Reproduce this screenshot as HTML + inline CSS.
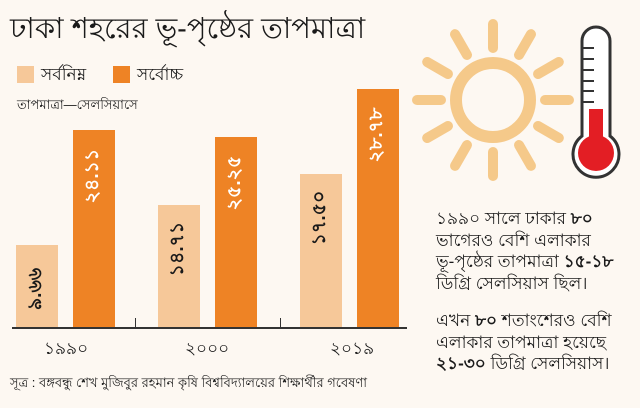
<!DOCTYPE html>
<html><head><meta charset="utf-8"><style>
body{margin:0;width:640px;height:408px;background:#fdf8f2;position:relative;overflow:hidden;font-family:"Liberation Sans","Noto Sans CJK SC",sans-serif;color:#1a1a1a}
.a{position:absolute;white-space:nowrap}
.bar{position:absolute}
.l{background:#f6c899}.d{background:#ee8325}
.v{position:absolute;left:50%;transform:translateX(-50%) rotate(-90deg);transform-origin:center;font-size:19px;font-weight:bold;white-space:nowrap}
</style></head><body>
<div class="a" style="left:10px;top:6px;font-size:29px">ঢাকা শহরের ভূ-পৃষ্ঠের তাপমাত্রা</div>
<div class="a" style="left:17px;top:66px;width:17px;height:17px;background:#f6c899"></div>
<div class="a" style="left:41px;top:62px;font-size:17px">সর্বনিম্ন</div>
<div class="a" style="left:113px;top:66px;width:17px;height:17px;background:#ee8325"></div>
<div class="a" style="left:137px;top:62px;font-size:17px">সর্বোচ্চ</div>
<div class="a" style="left:17px;top:96px;font-size:13px">তাপমাত্রা—সেলসিয়াসে</div>

<div class="bar l" style="left:16px;top:245px;width:42px;height:82px"><div class="v" style="top:28px">৯.৬৬</div></div>
<div class="bar d" style="left:73px;top:130px;width:42px;height:197px"><div class="v" style="top:30px;color:#fff">২৪.১১</div></div>
<div class="bar l" style="left:158px;top:205px;width:42px;height:122px"><div class="v" style="top:28px">১৪.৭১</div></div>
<div class="bar d" style="left:215px;top:137px;width:42px;height:190px"><div class="v" style="top:30px;color:#fff">২৫.২৫</div></div>
<div class="bar l" style="left:300px;top:174px;width:42px;height:153px"><div class="v" style="top:28px">১৭.৫০</div></div>
<div class="bar d" style="left:357px;top:89px;width:42px;height:238px"><div class="v" style="top:30px;color:#fff">২৮.৭৮</div></div>

<div class="a" style="left:12px;top:327px;width:395px;height:2px;background:#333"></div>
<div class="a" style="left:135px;top:318px;width:1px;height:11px;background:#333"></div>
<div class="a" style="left:280px;top:318px;width:1px;height:11px;background:#333"></div>
<div class="a" style="left:44px;top:336px;font-size:17px">১৯৯০</div>
<div class="a" style="left:185px;top:336px;font-size:17px">২০০০</div>
<div class="a" style="left:330px;top:336px;font-size:17px">২০১৯</div>
<div class="a" style="left:10px;top:374px;font-size:13px">সূত্র : বঙ্গবন্ধু শেখ মুজিবুর রহমান কৃষি বিশ্ববিদ্যালয়ের শিক্ষার্থীর গবেষণা</div>

<svg class="a" style="left:0;top:0" width="640" height="408">
<g stroke="#f5c98a" stroke-linecap="round" stroke-width="10">
<circle cx="493" cy="100" r="37" fill="none" stroke-width="12"/>
<g transform="translate(493,100)">
<line x1="52" y1="0" x2="76" y2="0"/><line x1="52" y1="0" x2="76" y2="0" transform="rotate(30)"/><line x1="52" y1="0" x2="76" y2="0" transform="rotate(60)"/><line x1="52" y1="0" x2="76" y2="0" transform="rotate(90)"/><line x1="52" y1="0" x2="76" y2="0" transform="rotate(120)"/><line x1="52" y1="0" x2="76" y2="0" transform="rotate(150)"/><line x1="52" y1="0" x2="76" y2="0" transform="rotate(180)"/><line x1="52" y1="0" x2="76" y2="0" transform="rotate(210)"/><line x1="52" y1="0" x2="76" y2="0" transform="rotate(240)"/><line x1="52" y1="0" x2="76" y2="0" transform="rotate(270)"/><line x1="52" y1="0" x2="76" y2="0" transform="rotate(300)"/><line x1="52" y1="0" x2="76" y2="0" transform="rotate(330)"/>
</g></g>
<path d="M582,136 V41 a14,14 0 0 1 28,0 V136 a23,23 0 1 1 -28,0 Z" fill="#fff" stroke="#333" stroke-width="3"/>
<rect x="589" y="109" width="14" height="40" fill="#e31e24"/>
<circle cx="596" cy="153" r="18" fill="#e31e24"/>
<g stroke="#333" stroke-width="2"><line x1="583" y1="48" x2="594" y2="48"/><line x1="583" y1="59" x2="594" y2="59"/><line x1="583" y1="70" x2="594" y2="70"/><line x1="583" y1="81" x2="594" y2="81"/><line x1="583" y1="91" x2="594" y2="91"/><line x1="583" y1="102" x2="594" y2="102"/></g>
</svg>

<div class="a" style="left:436px;top:208px;font-size:17px;line-height:21.7px">১৯৯০ সালে ঢাকার <b>৮০</b><br>ভাগেরও বেশি এলাকার<br>ভূ-পৃষ্ঠের তাপমাত্রা <b>১৫-১৮</b><br>ডিগ্রি সেলসিয়াস ছিল।</div>
<div class="a" style="left:436px;top:310px;font-size:17px;line-height:21.7px">এখন <b>৮০</b> শতাংশেরও বেশি<br>এলাকার তাপমাত্রা হয়েছে<br><b>২১-৩০</b> ডিগ্রি সেলসিয়াস।</div>
</body></html>
